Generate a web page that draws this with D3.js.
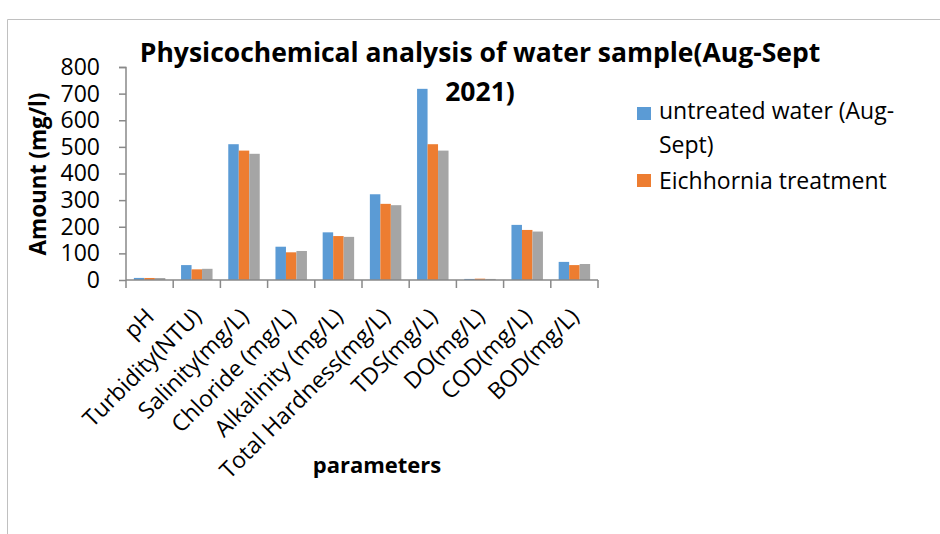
<!DOCTYPE html>
<html>
<head>
<meta charset="utf-8">
<script src="https://cdn.jsdelivr.net/npm/d3@7"></script>
<style>
  body { margin: 0; background: #fff; }
  text { font-family: "Open Sans", "Liberation Sans", sans-serif; fill: #000; }
</style>
</head>
<body>
<svg id="chart"></svg>
<script>
const categories = ["pH", "Turbidity(NTU)", "Salinity(mg/L)", "Chloride (mg/L)", "Alkalinity (mg/L)",
    "Total Hardness(mg/L)", "TDS(mg/L)", "DO(mg/L)", "COD(mg/L)", "BOD(mg/L)"];
const untreated = [7.8, 56, 510, 125, 179, 322, 718, 4, 207, 68];
const eichhornia = [7.6, 40, 486, 104, 165, 286, 510, 5, 188, 56];
const third = [7.4, 42, 474, 109, 162, 281, 486, 4, 182, 60];
const seriesNames = ["untreated water (Aug-Sept)", "Eichhornia treatment", "series 3"];
const colors = ["#5b9bd5", "#ed7d31", "#a5a5a5"];
const yTicks = [0, 100, 200, 300, 400, 500, 600, 700, 800];

const width = 940;
const height = 534;

const svg = d3.select("#chart")
    .attr("width", width)
    .attr("height", height);

// outer chart frame (only top/left edges are visible in the picture)
svg.append("path")
    .attr("d", "M7.5,534 V19.5 H940")
    .attr("fill", "none")
    .attr("stroke", "#c0c0c0");

const x0 = d3.scaleBand()
    .domain(categories)
    .range([126, 598])
    .paddingInner(0)
    .paddingOuter(0);

const x1 = d3.scaleBand()
    .domain([0, 1, 2])
    .range([0, x0.bandwidth()])
    .paddingInner(0)
    .paddingOuter(0.75);

const y = d3.scaleLinear()
    .domain([0, 800])
    .range([280, 67]);

const rows = categories.map((c, i) => ({
    cat: c,
    values: [untreated[i], eichhornia[i], third[i]]
}));

// bars
const group = svg.append("g")
    .selectAll("g")
    .data(rows)
    .enter()
    .append("g")
    .attr("transform", d => `translate(${x0(d.cat)},0)`);

group.selectAll("rect")
    .data(d => d.values.map((v, k) => ({ k, v })))
    .enter()
    .append("rect")
    .attr("x", d => x1(d.k))
    .attr("y", d => y(d.v))
    .attr("width", x1.bandwidth())
    .attr("height", d => y(0) - y(d.v))
    .attr("fill", d => colors[d.k]);

// y axis
const yAxis = svg.append("g")
    .attr("transform", "translate(126,0)")
    .call(d3.axisLeft(y).tickValues(yTicks).tickSize(7).tickPadding(19));
yAxis.select(".domain").attr("stroke", "#898989").attr("stroke-width", 1.5).attr("d", "M-7,67.5H0V280");
yAxis.selectAll(".tick line").attr("stroke", "#898989").attr("stroke-width", 1.5);
yAxis.selectAll(".tick text")
    .attr("font-size", 23)
    .attr("font-family", "Open Sans")
    .attr("fill", "#000");

// x axis: ticks at band boundaries
const xAxis = svg.append("g");
xAxis.append("line")
    .attr("x1", x0.range()[0])
    .attr("x2", x0.range()[1])
    .attr("y1", y(0))
    .attr("y2", y(0))
    .attr("stroke", "#898989")
    .attr("stroke-width", 1.5);
xAxis.selectAll("line.tk")
    .data(categories.concat(["end"]))
    .enter()
    .append("line")
    .attr("class", "tk")
    .attr("x1", (d, i) => x0.range()[0] + i * x0.step())
    .attr("x2", (d, i) => x0.range()[0] + i * x0.step())
    .attr("y1", y(0))
    .attr("y2", y(0) + 8)
    .attr("stroke", "#898989")
    .attr("stroke-width", 1.5);

xAxis.selectAll("text")
    .data(categories)
    .enter()
    .append("text")
    .attr("text-anchor", "end")
    .attr("font-size", 23)
    .attr("transform", d => `translate(${x0(d) + x0.bandwidth() / 2 + 6},${y(0) + 38}) rotate(-45)`)
    .text(d => d);

// titles
svg.append("text")
    .attr("x", 480)
    .attr("y", 62)
    .attr("text-anchor", "middle")
    .attr("font-size", 26.5)
    .attr("font-weight", "bold")
    .text("Physicochemical analysis of water sample(Aug-Sept");

svg.append("text")
    .attr("x", 480)
    .attr("y", 101)
    .attr("text-anchor", "middle")
    .attr("font-size", 26.5)
    .attr("font-weight", "bold")
    .text("2021)");

svg.append("text")
    .attr("transform", "translate(46,174) rotate(-90)")
    .attr("text-anchor", "middle")
    .attr("font-size", 22.5)
    .attr("font-weight", "bold")
    .text("Amount (mg/l)");

svg.append("text")
    .attr("x", 377)
    .attr("y", 473)
    .attr("text-anchor", "middle")
    .attr("font-size", 22)
    .attr("font-weight", "bold")
    .text("parameters");

// legend (only two entries fit in the original)
const legend = svg.append("g");
legend.append("rect").attr("x", 637).attr("y", 107).attr("width", 14).attr("height", 13).attr("fill", colors[0]);
legend.append("text").attr("x", 659).attr("y", 119).attr("font-size", 23).text("untreated water (Aug-");
legend.append("text").attr("x", 659).attr("y", 153).attr("font-size", 23).text("Sept)");
legend.append("rect").attr("x", 637).attr("y", 174).attr("width", 14).attr("height", 13).attr("fill", colors[1]);
legend.append("text").attr("x", 659).attr("y", 189).attr("font-size", 23).text(seriesNames[1]);
</script>
</body>
</html>
